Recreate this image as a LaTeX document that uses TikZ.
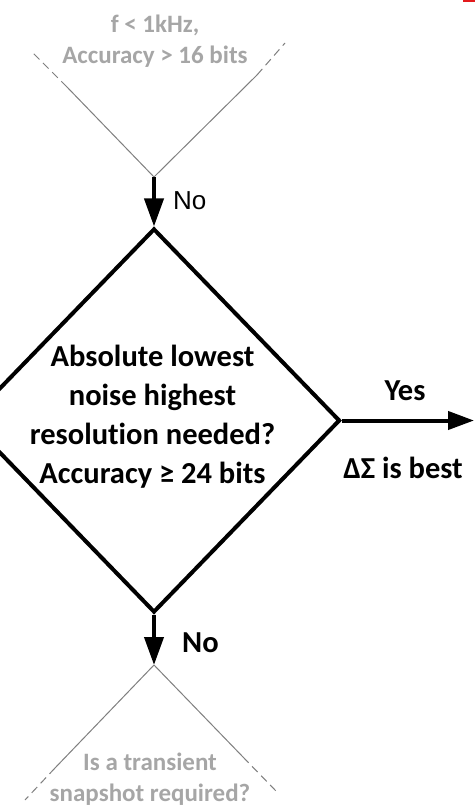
\documentclass[tikz,border=0pt]{standalone}
\usepackage{fontspec}
\setmainfont{Carlito}[Ligatures={NoCommon}]
\newfontfamily\arialfont{Liberation Sans}
\usetikzlibrary{arrows.meta,shapes.geometric}
\definecolor{txtgray}{HTML}{A6A6A6}
\definecolor{linegray}{HTML}{7F7F7F}
\definecolor{markred}{HTML}{E31A1C}
\begin{document}
\begin{tikzpicture}[x=1pt,y=-1pt,
  flow/.style={line width=4pt,-{Triangle[length=28pt,width=19pt]}},
  ghost/.style={linegray,line width=1pt},
  ghostdash/.style={ghost,dash pattern=on 8pt off 5pt},
  gtext/.style={txtgray,font=\bfseries\fontsize{25}{31}\selectfont,align=center,inner sep=0pt},
  btext/.style={font=\bfseries\fontsize{30.5}{39}\selectfont,align=center,inner sep=0pt}]
\useasboundingbox (0,0) rectangle (475,810);
\fill[markred] (463,0) rectangle (475,2);
% main decision
\node[draw,line width=4pt,shape=diamond,minimum width=372pt,minimum height=384pt,inner sep=0pt] (dia) at (154,420.5) {};
\node[btext] (qmain) at (152.5,417) {Absolute lowest\\noise highest\\resolution needed?\\Accuracy ≥ 24 bits};
% top ghost decision
\coordinate (tv) at (154,177);
\coordinate (tlm) at (67,87);
\coordinate (tl) at (32,52);
\coordinate (trm) at (257,75);
\coordinate (tr) at (285,43);
\draw[ghost] (tv) -- (tlm);
\draw[ghostdash] (tlm) -- (tl);
\draw[ghost] (tv) -- (trm);
\draw[ghostdash] (trm) -- (tr);
\node[gtext] (qtop) at (155,41) {f < 1kHz,\\Accuracy > 16 bits};
\draw[flow] (tv) -- (dia.north);
\node[font=\arialfont\fontsize{26}{30}\selectfont,anchor=base west,inner sep=0pt] (no1) at (173,210) {No};
% yes branch
\coordinate (yend) at (474,420.5);
\draw[line width=4pt,-{Triangle[length=26pt,width=18pt]}] (dia.east) -- (yend);
\node[btext,anchor=base] (yes) at (405,400) {Yes};
\node[btext,anchor=base] (best) at (403,478) {ΔΣ is best};
% bottom ghost decision
\coordinate (bv) at (154,665);
\coordinate (blm) at (55,768);
\coordinate (bl) at (25,800);
\coordinate (brm) at (243,757);
\coordinate (br) at (276,791);
\draw[flow] (dia.south) -- (bv);
\node[btext,anchor=base west] (no2) at (182,652) {No};
\draw[ghost] (bv) -- (blm);
\draw[ghostdash] (blm) -- (bl);
\draw[ghost] (bv) -- (brm);
\draw[ghostdash] (brm) -- (br);
\node[gtext] (qbot) at (150,779.5) {Is a transient\\snapshot required?};
\end{tikzpicture}
\end{document}
